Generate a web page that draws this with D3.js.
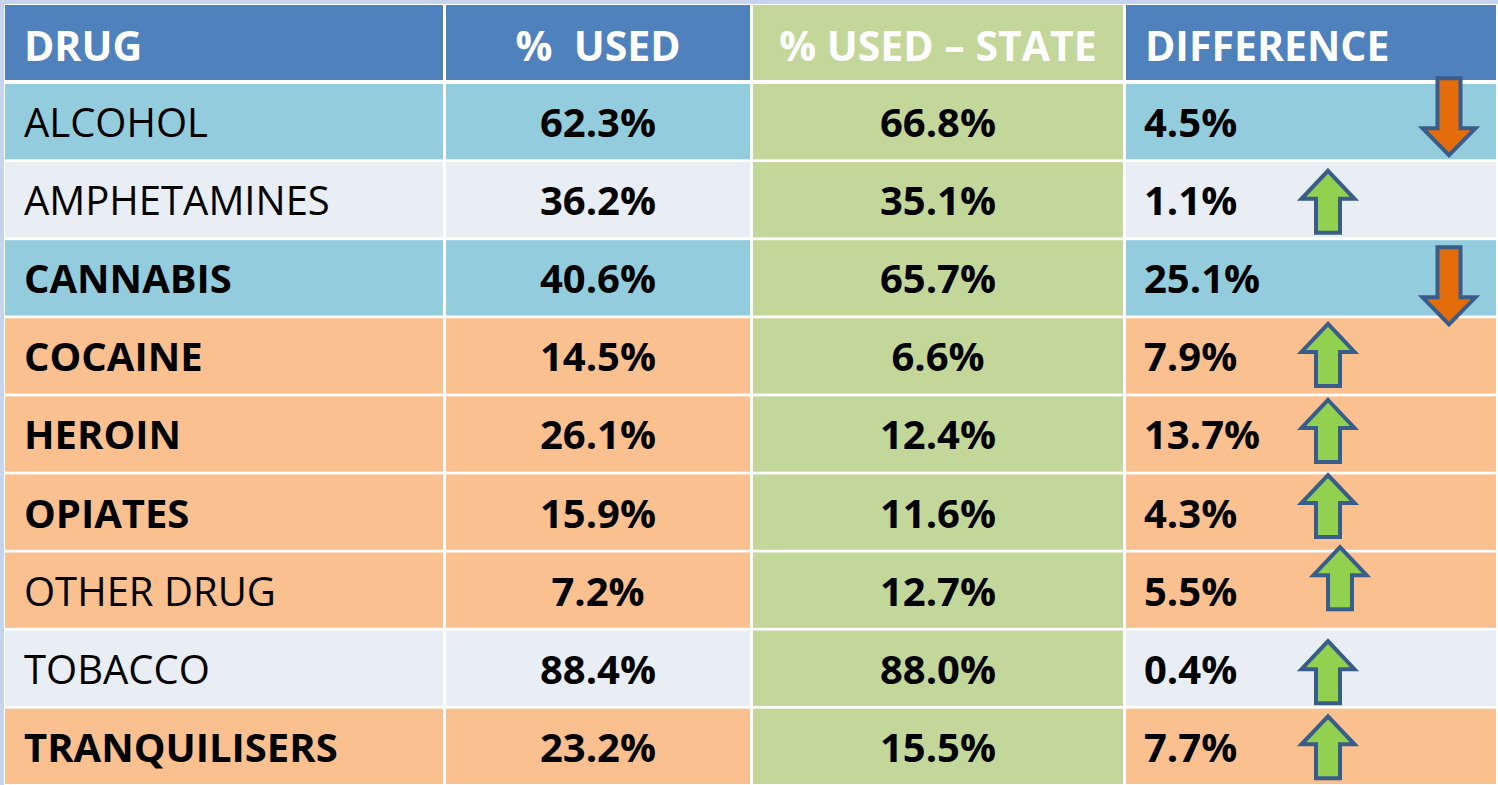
<!DOCTYPE html>
<html>
<head>
<meta charset="utf-8">
<script src="https://cdn.jsdelivr.net/npm/d3@7"></script>
<style>
  html, body { margin: 0; padding: 0; background: #c6d4ee; }
  svg { display: block; }
  text { font-family: "Open Sans", "Noto Sans", sans-serif; }
</style>
</head>
<body>
<div id="d3-container"></div>
<script>
/* DATA */
const headers = ["DRUG", "%  USED", "% USED \u2013 STATE", "DIFFERENCE"];
const drugs = ["ALCOHOL", "AMPHETAMINES", "CANNABIS", "COCAINE", "HEROIN",
  "OPIATES", "OTHER DRUG", "TOBACCO", "TRANQUILISERS"];
const usedPct = [62.3, 36.2, 40.6, 14.5, 26.1, 15.9, 7.2, 88.4, 23.2];
const statePct = [66.8, 35.1, 65.7, 6.6, 12.4, 11.6, 12.7, 88.0, 15.5];
const diffPct = [4.5, 1.1, 25.1, 7.9, 13.7, 4.3, 5.5, 0.4, 7.7];
const trend = ["down", "up", "down", "up", "up", "up", "up", "up", "up"];
const nameBold = [false, false, true, true, true, true, false, false, true];
const rowTone = ["blue", "grey", "blue", "orange", "orange", "orange", "orange", "grey", "orange"];

/* LAYOUT / STYLE */
const width = 1498, height = 785;
const colWidths = [439, 307, 373, 373];
const toneColor = { blue: "#93cddd", grey: "#e9edf4", orange: "#fac090" };
const headBlue = "#4f81bd", stateGreen = "#c4d79b";
// small hand placement of the arrows inside their cells [dx, dy]
const arrowNudge = [[0, -5], [0, 2], [0, 8], [0, -1], [0, -3], [0, -6], [12, -12], [0, 4], [0, 1]];

let svg, x, y;

/* INIT */
function init() {
  svg = d3.select("#d3-container")
    .append("svg")
    .attr("width", width)
    .attr("height", height);

  // white table body behind the cells (gives the grid lines)
  svg.append("rect")
    .attr("x", 4).attr("y", 4)
    .attr("width", width - 4).attr("height", height - 4)
    .attr("fill", "#ffffff");

  const colLeft = [5, ...d3.cumsum(colWidths).map(d => 5 + d)];
  x = {
    left: i => colLeft[i] + (i > 0 ? 2 : 0),
    width: i => colWidths[i] - (i > 0 ? 2 : 0) - 1,
  };

  y = d3.scaleBand()
    .domain(drugs)
    .range([84, 784])
    .paddingInner(0.035)
    .paddingOuter(0);

  draw();
}

/* DRAW */
function draw() {
  const cellX = x.left, cellW = x.width;

  /* header */
  const head = svg.append("g");
  head.selectAll("rect")
    .data(headers)
    .join("rect")
    .attr("x", (d, i) => cellX(i))
    .attr("y", 5)
    .attr("width", (d, i) => cellW(i))
    .attr("height", 75)
    .attr("fill", (d, i) => i === 2 ? stateGreen : headBlue);

  head.selectAll("text")
    .data(headers)
    .join("text")
    .attr("x", (d, i) => (i === 0 || i === 3) ? cellX(i) + 19 : cellX(i) + cellW(i) / 2)
    .attr("y", 61)
    .attr("text-anchor", (d, i) => (i === 0 || i === 3) ? "start" : "middle")
    .attr("font-size", 41)
    .attr("font-weight", 700)
    .attr("fill", "#ffffff")
    .style("white-space", "pre")
    .text(d => d);

  const table = drugs.map((d, i) => ({
    drug: d, used: usedPct[i], state: statePct[i], diff: diffPct[i],
    trend: trend[i], bold: nameBold[i], tone: rowTone[i], nudge: arrowNudge[i]
  }));

  /* rows */
  const rows = svg.append("g")
    .selectAll("g")
    .data(table)
    .join("g")
    .attr("transform", d => `translate(0,${y(d.drug)})`);

  const bh = y.bandwidth();
  [0, 1, 2, 3].forEach(ci => {
    rows.append("rect")
      .attr("x", cellX(ci))
      .attr("y", 0)
      .attr("width", cellW(ci))
      .attr("height", bh)
      .attr("fill", d => ci === 2 ? stateGreen : toneColor[d.tone]);
  });

  const fmt = v => d3.format(".1f")(v) + "%";
  const base = bh / 2 + 15.5;

  rows.append("text")
    .attr("x", cellX(0) + 19)
    .attr("y", base)
    .attr("font-size", 40)
    .attr("font-weight", d => d.bold ? 700 : 400)
    .text(d => d.drug);

  rows.append("text")
    .attr("x", cellX(1) + cellW(1) / 2)
    .attr("y", base)
    .attr("text-anchor", "middle")
    .attr("font-size", 40)
    .attr("font-weight", 700)
    .text(d => fmt(d.used));

  rows.append("text")
    .attr("x", cellX(2) + cellW(2) / 2)
    .attr("y", base)
    .attr("text-anchor", "middle")
    .attr("font-size", 40)
    .attr("font-weight", 700)
    .text(d => fmt(d.state));

  rows.append("text")
    .attr("x", cellX(3) + 18)
    .attr("y", base)
    .attr("font-size", 40)
    .attr("font-weight", 700)
    .text(d => fmt(d.diff));

  /* arrows, on top of every row so they can overlap cell borders */
  svg.append("g")
    .selectAll("path")
    .data(table)
    .join("path")
    .attr("d", d => arrowPath(d.trend))
    .attr("transform", d => {
      const cx = d.trend === "up" ? cellX(3) + 202 : cellX(3) + 323;
      return `translate(${cx + d.nudge[0]},${y(d.drug) + bh / 2 + d.nudge[1]})`;
    })
    .attr("fill", d => d.trend === "up" ? "#92d050" : "#e46c0a")
    .attr("stroke", "#385d8a")
    .attr("stroke-width", 4)
    .attr("stroke-linejoin", "miter");
}

function arrowPath(dir) {
  const up = dir === "up";
  const W = 53, H = up ? 62 : 77, hh = up ? 28 : 27, sw = up ? 24 : 23;
  const s = up ? 1 : -1;
  const p = d3.path();
  p.moveTo(0, -s * H / 2);
  p.lineTo(W / 2, -s * (H / 2 - hh));
  p.lineTo(sw / 2, -s * (H / 2 - hh));
  p.lineTo(sw / 2, s * H / 2);
  p.lineTo(-sw / 2, s * H / 2);
  p.lineTo(-sw / 2, -s * (H / 2 - hh));
  p.lineTo(-W / 2, -s * (H / 2 - hh));
  p.closePath();
  return p.toString();
}

init();
</script>
</body>
</html>
